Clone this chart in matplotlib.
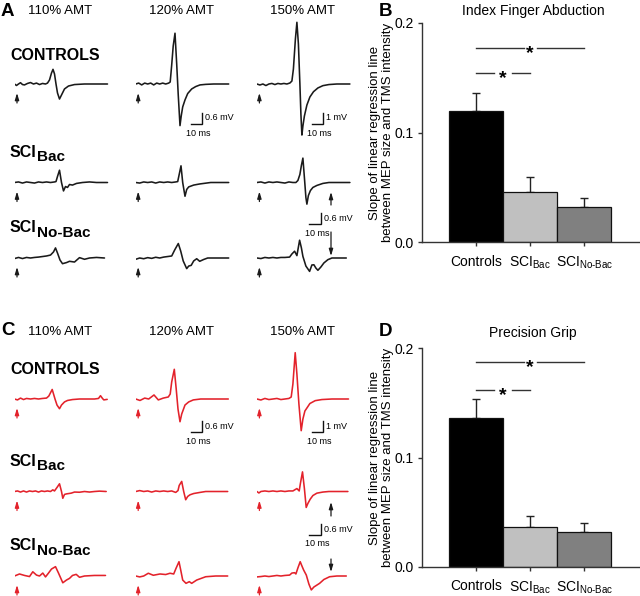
import matplotlib
matplotlib.use("Agg")
import matplotlib.pyplot as plt
from matplotlib.transforms import offset_copy

plt.rcParams['font.family'] = ['Liberation Sans', 'DejaVu Sans']
plt.rcParams['mathtext.fontset'] = 'custom'
plt.rcParams['mathtext.rm'] = 'Liberation Sans'
plt.rcParams['mathtext.it'] = 'Liberation Sans:italic'
plt.rcParams['mathtext.bf'] = 'Liberation Sans:bold'

W, H = 640, 596

# ---------------- data ----------------
intensities = ['110% AMT', '120% AMT', '150% AMT']
bar_labels = ['Controls', r'SCI$_{\mathrm{Bac}}$', r'SCI$_{\mathrm{No}\text{-}\mathrm{Bac}}$']
bar_colors = ['#000000', '#c0c0c0', '#808080']

index_mean = [0.120, 0.046, 0.032]
index_sem = [0.016, 0.013, 0.0086]
grip_mean = [0.1365, 0.036, 0.032]
grip_sem = [0.0168, 0.0103, 0.0082]
index_sig_y = [0.1775, 0.1546]
grip_sig_y = [0.1873, 0.162]

# MEP traces: time (ms from trace start) and amplitude (mV)
A_CTRL_110_T = [0, 2, 4, 6, 8, 10, 13, 16, 19, 22, 25, 28, 31, 33, 35, 37, 38.5, 40, 41.5, 43, 45, 47, 50, 54, 60, 70, 93]
A_CTRL_110_MV = [0, -0.08, 0, 0.07, -0.03, -0.05, 0.03, 0.08, 0, 0.05, -0.03, 0.03, 0, 0.05, 0.22, 0.6, 0.8, 0.55, 0, -0.49, -0.82, -0.6, -0.27, -0.11, -0.03, 0, 0]
A_CTRL_120_T = [0, 3, 6, 9, 12, 15, 18, 21, 24, 27, 30, 33, 34.5, 36, 37.5, 39.3, 41, 42.5, 44.3, 45.5, 47, 49.3, 52, 56, 60, 64.3, 70, 78, 93]
A_CTRL_120_MV = [0, 0.05, -0.05, 0.05, 0, 0.05, -0.05, 0.05, 0, 0.05, 0, 0.05, 0.11, 1.04, 2.07, 2.77, 1.09, -0.55, -2.27, -1.75, -1.25, -0.87, -0.52, -0.27, -0.14, -0.05, -0.02, 0, 0]
A_CTRL_150_T = [0, 3, 6, 9, 12, 15, 18, 21, 24, 27, 30, 33, 35, 36.5, 38.5, 40, 41.5, 43, 44, 45, 46, 47.5, 50, 53, 56.6, 61, 66, 72, 80, 93]
A_CTRL_150_MV = [0, -0.09, 0, -0.14, 0, 0.05, -0.05, 0.05, 0, 0.05, 0, 0.09, 0.27, 1.36, 4.09, 5.61, 3.64, 0, -2.73, -4.64, -3.82, -2.91, -1.91, -1.18, -0.7, -0.36, -0.15, -0.05, 0, 0]

A_BAC_110_T = [0, 4, 8, 12, 16, 20, 24, 28, 32, 36, 40, 41.5, 43, 45, 47, 49, 51, 53, 55, 58, 62, 68, 75, 82, 93]
A_BAC_110_MV = [0, 0.03, -0.03, 0.03, 0, -0.03, 0.03, 0, 0.03, 0, 0.03, 0.05, 0.33, 0.67, 0, -0.46, -0.22, -0.27, -0.11, -0.14, -0.05, 0, 0.03, 0, 0]
A_BAC_120_T = [0, 4, 8, 12, 16, 20, 24, 28, 32, 36, 40, 42, 43.5, 45.3, 47, 49.3, 51, 53, 58, 64, 75, 93]
A_BAC_120_MV = [0, -0.03, 0.03, 0, 0.03, -0.03, 0.03, 0, 0.03, 0, 0.03, 0.05, 0.44, 0.91, 0, -0.75, -0.38, -0.24, -0.14, -0.08, 0, 0]
A_BAC_150_T = [0, 4, 8, 12, 16, 20, 24, 28, 32, 36, 39, 41, 43, 44.5, 46, 47.5, 49, 50, 51.5, 53.5, 56, 60, 66, 72, 93]
A_BAC_150_MV = [0, 0.03, -0.03, 0.03, 0, 0.03, 0, -0.03, 0.03, 0, 0, 0.11, 0.44, 0.93, 1.33, 0.27, -0.82, -1.18, -0.71, -0.44, -0.27, -0.16, -0.05, 0, 0]

A_NOBAC_110_T = [0, 4, 8, 12, 16, 20, 24, 28, 32, 36, 39, 41, 43, 45.5, 48, 52, 55, 60, 65, 70, 75, 82, 90]
A_NOBAC_110_MV = [-0.03, 0.03, -0.03, 0.03, 0, 0.03, 0.05, 0.08, 0.11, 0.16, 0.33, 0.55, 0.27, -0.11, -0.31, -0.25, -0.18, -0.22, 0.02, -0.07, 0, 0.03, 0]
A_NOBAC_120_T = [0, 4, 8, 12, 16, 20, 24, 28, 32, 36, 39, 42.6, 45, 47.5, 51, 53, 55.5, 58, 61, 64, 68, 72, 93]
A_NOBAC_120_MV = [-0.07, 0, -0.04, 0.02, -0.02, 0.04, 0, 0.05, 0.08, 0.11, 0.44, 0.79, 0.38, -0.16, -0.58, -0.44, -0.4, -0.16, -0.04, -0.18, -0.08, 0, 0]
A_NOBAC_150_T = [0, 4, 8, 12, 16, 20, 24, 28, 32.7, 35, 37.7, 40, 42.7, 44.5, 46, 49, 52.7, 55, 57, 59, 61, 64, 67, 71, 75, 89.4]
A_NOBAC_150_MV = [0, -0.03, 0.03, 0, 0.03, 0, 0.03, 0.03, 0.05, 0.22, 0.37, 0.13, 0.97, 0.55, 0.09, -0.44, -0.73, -0.38, -0.37, -0.55, -0.67, -0.49, -0.27, -0.09, 0, 0]

C_CTRL_110_T = [0, 3, 6, 9, 12, 16, 20, 24, 28, 32, 34.3, 37.7, 40.5, 42.5, 45, 47, 50, 53, 58, 65, 80, 84, 86, 88, 89.3, 92.7]
C_CTRL_110_MV = [0, -0.05, 0.05, -0.03, 0.03, 0, 0.03, 0, 0.03, 0.05, 0.16, 0.52, 0, -0.33, -0.53, -0.33, -0.16, -0.08, -0.03, 0, 0, 0.03, 0.18, 0.03, -0.05, -0.02]
C_CTRL_120_T = [0, 4.3, 9, 13, 18.3, 22.6, 27.6, 32.6, 34.5, 36, 38.6, 40.5, 42.3, 44.3, 46, 49.3, 53, 57.6, 65, 92.6]
C_CTRL_120_MV = [0, -0.08, 0.05, 0, 0.22, -0.05, 0.05, 0.11, 0.27, 0.93, 1.62, 0.55, -0.55, -1.24, -0.82, -0.33, -0.16, -0.05, 0, 0]
C_CTRL_150_T = [0, 4, 8, 12, 16, 20, 24, 28, 32, 34.3, 36, 38.3, 40, 42, 44.3, 46, 48, 50, 53, 58.3, 65, 75, 91.6]
C_CTRL_150_MV = [0, -0.09, 0.05, -0.05, 0, 0.05, -0.05, 0, 0.05, 0.18, 1.36, 4.21, 2.27, -0.45, -2.88, -1.82, -1.09, -0.82, -0.41, -0.15, -0.05, 0, 0]

C_BAC_110_T = [0, 3, 6, 9, 12, 15, 18, 21, 24, 27, 30, 33, 36, 38.3, 40, 42.5, 45, 47, 48.3, 50, 52, 56.7, 60, 65, 70, 75, 80, 85, 91.7]
C_BAC_110_MV = [0, 0.03, -0.03, 0.03, -0.03, 0.03, 0, 0.03, -0.03, 0.03, 0, 0.03, 0, 0.09, 0.03, 0.22, 0.42, 0, -0.37, -0.16, -0.13, -0.09, -0.03, -0.04, 0, -0.03, 0, 0.02, 0]
C_BAC_120_T = [0, 4, 8, 12, 16, 20, 24, 28, 32, 36, 40, 42.3, 43.5, 46, 48, 50, 52, 54.3, 58, 64.3, 70, 92]
C_BAC_120_MV = [0, 0.05, 0, 0.03, -0.03, 0.03, 0, 0.03, 0, 0.03, -0.05, 0.05, 0.33, 0.55, 0, -0.45, -0.27, -0.18, -0.11, -0.05, 0, 0]
C_BAC_150_T = [0, 2, 4, 8, 12, 16, 20, 24, 28, 32, 36, 40, 42.3, 43.5, 45.6, 47.5, 49.3, 51, 53.3, 56, 60, 66, 72, 91]
C_BAC_150_MV = [0, -0.08, 0, 0.03, 0, 0.03, 0, 0.03, 0, 0.03, 0.03, 0.16, 0.03, 0.44, 1.07, 0.16, -0.87, -0.65, -0.42, -0.22, -0.09, -0.03, 0, 0]

C_NOBAC_110_T = [0, 5, 10, 15, 18.3, 22, 25, 28.3, 31, 34, 37, 41, 44, 48.3, 52, 55, 58, 61.7, 65, 70, 80, 91]
C_NOBAC_110_MV = [0, 0.11, 0.03, -0.03, 0.23, 0.05, 0, 0.16, -0.05, 0.16, 0.38, 0.51, 0.16, -0.37, -0.22, -0.13, 0.03, 0.09, -0.07, 0, 0.03, 0.03]
C_NOBAC_120_T = [0, 4, 8, 12.6, 17.6, 24.3, 30, 34.3, 38, 40.5, 43.3, 45, 47, 50.3, 53.6, 56, 61, 70, 80, 92]
C_NOBAC_120_MV = [0, -0.05, 0, 0.15, 0.04, 0.11, 0.08, 0.15, 0.11, 0.44, 0.78, 0.33, -0.22, -0.4, -0.31, -0.4, -0.22, -0.04, 0, 0]
C_NOBAC_150_T = [0, 4, 8, 12, 16, 20, 24, 28, 32.7, 35, 37.7, 39, 41, 43.3, 45, 46.7, 49.4, 52, 54.4, 57, 62.7, 67, 72.7, 80, 89.4]
C_NOBAC_150_MV = [-0.05, -0.03, 0, -0.03, 0, 0.03, 0, 0.03, 0.05, 0.16, 0.18, 0.11, 0.44, 0.78, 0.55, 0.33, 0.05, -0.44, -0.76, -0.6, -0.4, -0.19, -0.04, 0, 0]

traces_A = [[(A_CTRL_110_T, A_CTRL_110_MV), (A_CTRL_120_T, A_CTRL_120_MV), (A_CTRL_150_T, A_CTRL_150_MV)],
            [(A_BAC_110_T, A_BAC_110_MV), (A_BAC_120_T, A_BAC_120_MV), (A_BAC_150_T, A_BAC_150_MV)],
            [(A_NOBAC_110_T, A_NOBAC_110_MV), (A_NOBAC_120_T, A_NOBAC_120_MV), (A_NOBAC_150_T, A_NOBAC_150_MV)]]
traces_C = [[(C_CTRL_110_T, C_CTRL_110_MV), (C_CTRL_120_T, C_CTRL_120_MV), (C_CTRL_150_T, C_CTRL_150_MV)],
            [(C_BAC_110_T, C_BAC_110_MV), (C_BAC_120_T, C_BAC_120_MV), (C_BAC_150_T, C_BAC_150_MV)],
            [(C_NOBAC_110_T, C_NOBAC_110_MV), (C_NOBAC_120_T, C_NOBAC_120_MV), (C_NOBAC_150_T, C_NOBAC_150_MV)]]

# ---------------- layout (pixels) ----------------
col_x = [14.5, 135.7, 256.9]
base_A = [84, 182.5, 258]
base_C = [399, 491.5, 576]
PX_06 = 11 / 0.6   # px per mV for 0.6 mV bars
PX_1 = 11 / 1.0    # px per mV for 1 mV bars
BLACK = '#1a1a1a'
RED = '#e3222b'

fig = plt.figure(figsize=(W / 100, H / 100), dpi=100)


def px_axes(x0, y0, w, h):
    return fig.add_axes([x0 / W, 1 - (y0 + h) / H, w / W, h / H])


ov = fig.add_axes([0, 0, 1, 1])
ov.set_xlim(0, W)
ov.set_ylim(H, 0)
ov.axis('off')


def arrow(x, y_tail, y_tip, color):
    ov.annotate('', xy=(x, y_tip), xytext=(x, y_tail),
                arrowprops=dict(arrowstyle='-|>,head_length=0.4,head_width=0.12',
                                color=color, lw=0.9, shrinkA=0, shrinkB=0))


def scale_bar(x0, x1, y, ytop, vlabel, hlabel_y):
    ov.plot([x0, x1, x1], [y, y, ytop], color='#111111', lw=1.0, solid_joinstyle='miter')
    ov.text(x1 + 3, (y + ytop) / 2, vlabel, fontsize=6.5, ha='left', va='center')
    ov.text((x0 + x1) / 2 + 2, hlabel_y, '10 ms', fontsize=6.5, ha='center', va='center')


def trace_panel(traces, bases, color, head_y, letter, letter_y):
    for r in range(3):
        for c in range(3):
            t, v = traces[r][c]
            ppm = PX_1 if (r == 0 and c == 2) else PX_06
            ax = px_axes(col_x[c], bases[r] - 80, 100, 160)
            ax.set_xlim(0, 100)
            ax.set_ylim(-80 / ppm, 80 / ppm)
            ax.plot(t, v, color=color, lw=1.15, solid_joinstyle='round', solid_capstyle='round')
            ax.axis('off')
            arrow(col_x[c] + 2.5, bases[r] + 19, bases[r] + 9, color)
    for c, lab in enumerate(intensities):
        ov.text([60.5, 181.7, 302.5][c], head_y, lab, fontsize=9.5, ha='center', va='center')
    ov.text(1, letter_y, letter, fontsize=13.5, fontweight='bold', ha='left', va='center')
    ov.text(10, bases[0] - 29, 'CONTROLS', fontsize=11.5, fontweight='bold', ha='left', va='center')
    for r, sub in [(1, 'Bac'), (2, 'No-Bac')]:
        t = ov.text(10, bases[r] - 30, 'SCI', fontsize=11.5, fontweight='bold', ha='left', va='center')
        ov.annotate(sub, xy=(1, 0), xycoords=t, xytext=(0.3, -3.2), textcoords='offset points',
                    fontsize=11, fontweight='bold', ha='left', va='bottom')


trace_panel(traces_A, base_A, BLACK, 11, 'A', 12)
trace_panel(traces_C, base_C, RED, 332, 'C', 330.5)

# scale bars & extra arrows, panel A
scale_bar(191, 202, 123.5, 112.5, '0.6 mV', 133)
scale_bar(312, 323, 123.5, 112.5, '1 mV', 133)
scale_bar(309, 321, 224, 212.5, '0.6 mV', 233)
arrow(331, 205, 192, BLACK)
arrow(331, 232, 256, BLACK)
# scale bars & extra arrows, panel C
scale_bar(191, 202, 432, 421, '0.6 mV', 441)
scale_bar(312, 323, 432, 421, '1 mV', 441)
scale_bar(309, 321, 535, 523.5, '0.6 mV', 544)
arrow(331, 516, 502, BLACK)
arrow(331, 559, 572, BLACK)


# ---------------- bar panels ----------------
def bar_panel(top_px, bottom_px, means, sems, title, title_y, sig_y, letter, letter_y):
    ax = px_axes(422, top_px, 218, bottom_px - top_px)
    x = [0, 1, 2]
    ax.bar(x, means, width=1.0, color=bar_colors, edgecolor='#111111', linewidth=0.9, zorder=2)
    ax.errorbar(x, means, yerr=[[0, 0, 0], sems], fmt='none', ecolor='#222222',
                elinewidth=1.0, capsize=3.2, capthick=1.0, zorder=1)
    ax.set_xlim(-1.0, 3.03)
    ax.set_ylim(0, 0.2)
    ax.set_yticks([0, 0.1, 0.2])
    ax.set_yticklabels(['0.0', '0.1', '0.2'])
    ax.set_xticks(x)
    ax.set_xticklabels(bar_labels)
    for s in ['top', 'right']:
        ax.spines[s].set_visible(False)
    for s in ['left', 'bottom']:
        ax.spines[s].set_color('#333333')
        ax.spines[s].set_linewidth(1.0)
    ax.tick_params(direction='out', length=3, width=1.0, color='#333333', labelsize=10, pad=3)
    ax.tick_params(axis='x', pad=6)
    ax.set_ylabel('Slope of linear regression line\nbetween MEP size and TMS intensity',
                  fontsize=9.5, labelpad=0, linespacing=1.15)
    star_tr = offset_copy(ax.transData, fig=fig, y=-4.2, units='points')
    for (x0, x1), y, gap in zip([(0, 2), (0, 1)], sig_y, [0.12, 0.16]):
        xm = (x0 + x1) / 2
        ax.plot([x0, xm - gap], [y, y], color='#333333', lw=1.0, clip_on=False)
        ax.plot([xm + gap, x1], [y, y], color='#333333', lw=1.0, clip_on=False)
        ax.text(xm, y, '*', transform=star_tr, ha='center', va='center',
                fontsize=14, fontweight='bold')
    ov.text(533, title_y, title, fontsize=10, ha='center', va='center')
    ov.text(379, letter_y, letter, fontsize=13.5, fontweight='bold', ha='left', va='center')
    return ax


bar_panel(23, 242, index_mean, index_sem, 'Index Finger Abduction', 11, index_sig_y, 'B', 12)
bar_panel(348.3, 566.7, grip_mean, grip_sem, 'Precision Grip', 333, grip_sig_y, 'D', 331.5)

fig.savefig('out.png', dpi=100)
